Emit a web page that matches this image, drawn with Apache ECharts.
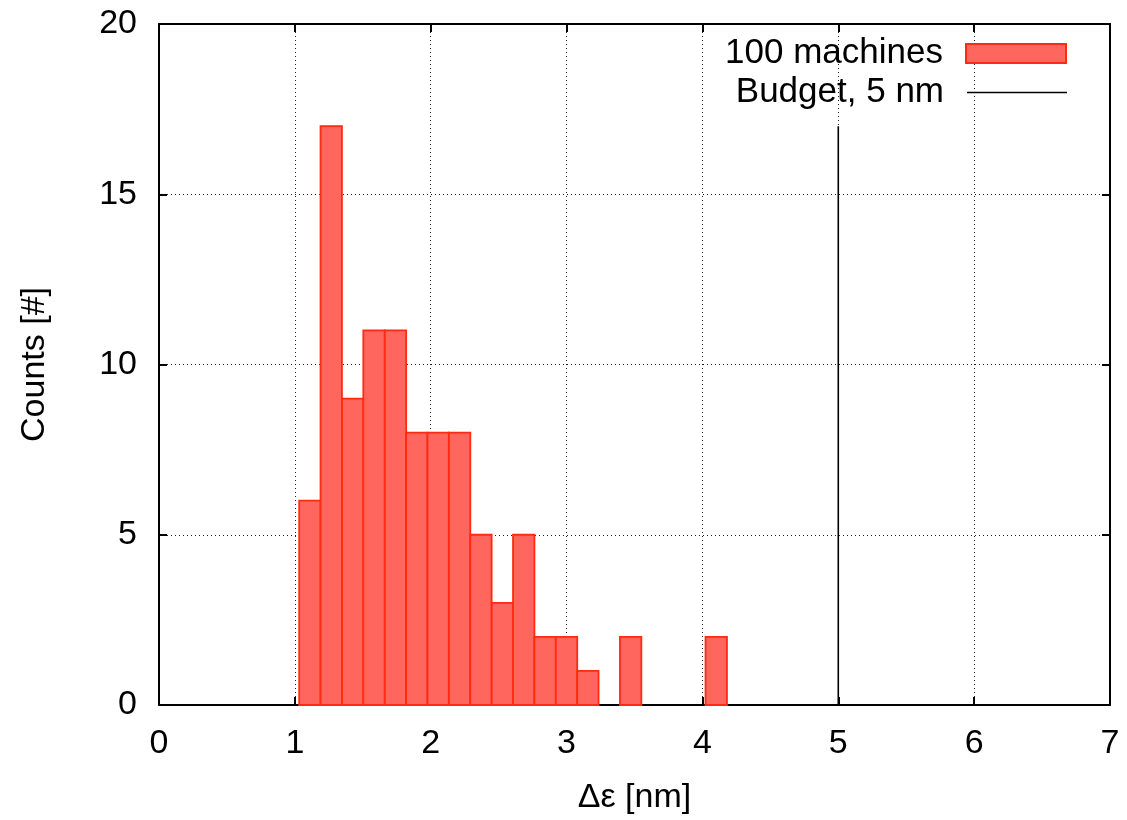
<!DOCTYPE html>
<html>
<head>
<meta charset="utf-8">
<script src="https://cdn.jsdelivr.net/npm/echarts@6/dist/echarts.min.js"></script>
<style>html,body{margin:0;padding:0;background:#fff}#c{width:1127px;height:820px}</style>
</head>
<body>
<div id="c"></div>
<script>
// Histogram bins (left edges, nm) and counts
const binStart = [1.032, 1.189, 1.347, 1.504, 1.662, 1.819, 1.976, 2.134, 2.291, 2.449,
                  2.606, 2.763, 2.921, 3.078, 3.236, 3.393, 3.551, 3.708, 3.865, 4.023];
const binWidth = 0.1574;
const counts = [6, 17, 9, 11, 11, 8, 8, 8, 5, 3, 5, 2, 2, 1, 0, 2, 0, 0, 0, 2];
// Budget line
const budgetX = [5, 5];
const budgetY = [0, 17];
const xTicks = [0, 1, 2, 3, 4, 5, 6, 7];
const yTicks = [0, 5, 10, 15, 20];
const seriesNames = ['100 machines', 'Budget, 5 nm'];

const FONT = '"Liberation Sans", Arial, Helvetica, sans-serif';
const histData = binStart.map((s, i) => [s, s + binWidth, counts[i]]);
const lineData = budgetX.map((x, i) => [x, budgetY[i]]);

const chart = echarts.init(document.getElementById('c'), null, {renderer: 'canvas'});
const axisCommon = {
  type: 'value',
  axisLine: {show: true, onZero: false, lineStyle: {color: '#000', width: 2}},
  axisTick: {show: true, inside: true, length: 8, lineStyle: {color: '#000', width: 2}},
};
const legendText = {fontSize: 35, color: '#000', fontFamily: FONT, padding: [0, 18, 0, 0]};
chart.setOption({
  animation: false,
  textStyle: {fontFamily: FONT},
  grid: {left: 159, right: 17, top: 24, bottom: 113},
  legend: [
    {
      orient: 'vertical', right: 55, top: 31, align: 'right',
      itemWidth: 100, itemHeight: 19,
      textStyle: legendText,
      data: [{name: seriesNames[0], icon: 'rect'}]
    },
    {
      orient: 'vertical', right: 55, top: 70, align: 'right',
      itemWidth: 100, itemHeight: 1.6,
      textStyle: legendText,
      data: [{name: seriesNames[1], icon: 'rect', itemStyle: {color: '#000', borderWidth: 0}}]
    }
  ],
  xAxis: [
    Object.assign({}, axisCommon, {
      min: xTicks[0], max: xTicks[xTicks.length - 1], interval: 1, position: 'bottom',
      axisLabel: {fontSize: 34, color: '#000', margin: 22, fontFamily: FONT},
      splitLine: {show: true, lineStyle: {color: '#222', width: 1, type: [1, 3]}},
      name: 'Δε [nm]', nameLocation: 'middle', nameGap: 76,
      nameTextStyle: {fontSize: 34, color: '#000', fontFamily: FONT}
    }),
    Object.assign({}, axisCommon, {
      min: xTicks[0], max: xTicks[xTicks.length - 1], interval: 1, position: 'top',
      axisLabel: {show: false}, splitLine: {show: false}
    })
  ],
  yAxis: [
    Object.assign({}, axisCommon, {
      min: yTicks[0], max: yTicks[yTicks.length - 1], interval: 5, position: 'left',
      axisLabel: {fontSize: 34, color: '#000', margin: 22, fontFamily: FONT},
      splitLine: {show: true, lineStyle: {color: '#222', width: 1, type: [1, 3]}},
      name: 'Counts [#]', nameLocation: 'middle', nameGap: 107, nameRotate: 90,
      nameTextStyle: {fontSize: 34, color: '#000', fontFamily: FONT}
    }),
    Object.assign({}, axisCommon, {
      min: yTicks[0], max: yTicks[yTicks.length - 1], interval: 5, position: 'right',
      axisLabel: {show: false}, splitLine: {show: false}
    })
  ],
  series: [
    {
      name: seriesNames[0], type: 'custom', xAxisIndex: 0, yAxisIndex: 0,
      itemStyle: {color: '#ff665e', borderColor: '#ff2a12', borderWidth: 1.5},
      encode: {x: [0, 1], y: 2},
      data: histData,
      renderItem: function (params, api) {
        const c = api.value(2);
        if (!c) return null;
        const p0 = api.coord([api.value(0), c]);
        const p1 = api.coord([api.value(1), 0]);
        return {
          type: 'rect',
          shape: {x: p0[0], y: p0[1], width: p1[0] - p0[0], height: p1[1] - p0[1]},
          style: {fill: '#ff665e', stroke: '#ff2a12', lineWidth: 1.8}
        };
      }
    },
    {
      name: seriesNames[1], type: 'line', xAxisIndex: 0, yAxisIndex: 0,
      data: lineData, symbol: 'none', showSymbol: false,
      lineStyle: {color: '#000', width: 1.6}, itemStyle: {color: '#000'}
    }
  ]
});
</script>
</body>
</html>
